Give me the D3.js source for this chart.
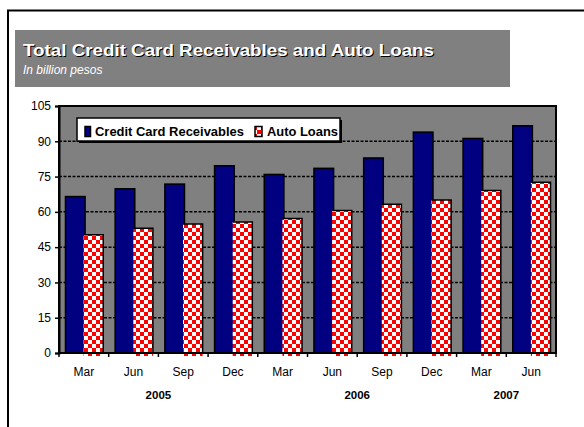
<!DOCTYPE html>
<html>
<head>
<meta charset="utf-8">
<script src="https://cdn.jsdelivr.net/npm/d3@7"></script>
<style>
  html, body { margin: 0; padding: 0; background: #ffffff; }
  svg { display: block; }
  text { font-family: "Liberation Sans", Arial, sans-serif; }
</style>
</head>
<body>
<div id="chart"></div>
<script>
// Quarterly balances, billion pesos
const quarters = ["Mar", "Jun", "Sep", "Dec", "Mar", "Jun", "Sep", "Dec", "Mar", "Jun"];
const quarterYears = ["2005", "2005", "2005", "2005", "2006", "2006", "2006", "2006", "2007", "2007"];
const yearLabels = ["2005", "2006", "2007"];
const creditCard = [66.5, 69.8, 71.8, 79.6, 75.9, 78.5, 82.9, 93.9, 91.2, 96.6];
const autoLoans = [50.3, 53.0, 54.8, 55.7, 57.2, 60.6, 63.2, 65.0, 69.1, 72.6];
const seriesNames = ["Credit Card Receivables", "Auto Loans"];
const yTicks = [0, 15, 30, 45, 60, 75, 90, 105];

const W = 584, H = 427;
const plot = { left: 59, right: 556, top: 106, bottom: 353 };

const svg = d3.select("#chart").append("svg")
  .attr("width", W).attr("height", H);

const defs = svg.append("defs");
// red / white checkerboard fill for the auto loan bars
const pat = defs.append("pattern")
  .attr("id", "checks").attr("patternUnits", "userSpaceOnUse")
  .attr("width", 8).attr("height", 8);
pat.append("rect").attr("width", 8).attr("height", 8).attr("fill", "#ffffff");
pat.append("rect").attr("x", 0).attr("y", 0).attr("width", 4).attr("height", 4).attr("fill", "#ff0000");
pat.append("rect").attr("x", 4).attr("y", 4).attr("width", 4).attr("height", 4).attr("fill", "#ff0000");

// page frame
svg.append("path")
  .attr("d", `M8,${H} V10.5 H${W}`)
  .attr("fill", "none").attr("stroke", "#000").attr("stroke-width", 2);

// title band
svg.append("rect")
  .attr("x", 15).attr("y", 30).attr("width", 495).attr("height", 57)
  .attr("fill", "#808080");

const titleText = "Total Credit Card Receivables and Auto Loans";
svg.append("text")
  .attr("x", 24).attr("y", 57)
  .attr("font-size", 17).attr("font-weight", "bold")
  .attr("textLength", 411).attr("lengthAdjust", "spacingAndGlyphs")
  .attr("fill", "#000").text(titleText);
svg.append("text")
  .attr("x", 23).attr("y", 56)
  .attr("font-size", 17).attr("font-weight", "bold")
  .attr("textLength", 411).attr("lengthAdjust", "spacingAndGlyphs")
  .attr("fill", "#fff").text(titleText);
svg.append("text")
  .attr("x", 23).attr("y", 74)
  .attr("font-size", 12).attr("font-style", "italic")
  .attr("fill", "#fff").text("In billion pesos");

// scales
const x = d3.scaleBand().domain(d3.range(quarters.length))
  .range([plot.left, plot.right]).paddingInner(0).paddingOuter(0);
const y = d3.scaleLinear().domain([0, 105]).range([plot.bottom, plot.top]);

const bw = x.bandwidth();
const barW = bw * 0.395;
const off1 = bw * 0.13;
const off2 = off1 + barW - 1.5;

// plot area
svg.append("rect")
  .attr("x", plot.left).attr("y", plot.top)
  .attr("width", plot.right - plot.left).attr("height", plot.bottom - plot.top)
  .attr("fill", "#808080");

// dashed gridlines
svg.append("g").selectAll("line")
  .data(yTicks.filter(t => t > 0 && t < 105))
  .join("line")
  .attr("x1", plot.left).attr("x2", plot.right)
  .attr("y1", d => y(d)).attr("y2", d => y(d))
  .attr("stroke", "#000").attr("stroke-width", 1.5)
  .attr("stroke-dasharray", "3,1.5");

// credit card bars
svg.append("g").selectAll("rect")
  .data(creditCard)
  .join("rect")
  .attr("x", (d, i) => x(i) + off1)
  .attr("y", d => y(d))
  .attr("width", barW)
  .attr("height", d => y(0) - y(d))
  .attr("fill", "#000080")
  .attr("stroke", "#000").attr("stroke-width", 1.5);

// auto loan bars
svg.append("g").selectAll("rect")
  .data(autoLoans)
  .join("rect")
  .attr("x", (d, i) => x(i) + off2)
  .attr("y", d => y(d))
  .attr("width", barW)
  .attr("height", d => y(0) - y(d) + 3)
  .attr("fill", "url(#checks)");
svg.append("g").selectAll("path")
  .data(autoLoans)
  .join("path")
  .attr("d", (d, i) => `M${x(i) + off2},${y(d)} H${x(i) + off2 + barW} V${y(0)}`)
  .attr("fill", "none")
  .attr("stroke", "#000").attr("stroke-width", 1.5);

// plot frame
svg.append("rect")
  .attr("x", plot.left).attr("y", plot.top)
  .attr("width", plot.right - plot.left).attr("height", plot.bottom - plot.top)
  .attr("fill", "none").attr("stroke", "#000").attr("stroke-width", 2);

// y axis
const yAxis = d3.axisLeft(y).tickValues(yTicks).tickSize(4).tickPadding(4);
const gy = svg.append("g").attr("transform", `translate(${plot.left},0)`).call(yAxis);
gy.select(".domain").attr("stroke", "#000").attr("stroke-width", 2);
gy.selectAll(".tick line").attr("stroke", "#000").attr("stroke-width", 1.5);
gy.selectAll(".tick text")
  .attr("font-family", "Liberation Sans, Arial, sans-serif")
  .attr("font-size", 12).attr("fill", "#000");

// x axis: tick marks on category boundaries
const gx = svg.append("g").attr("transform", `translate(0,${plot.bottom})`);
gx.append("line")
  .attr("x1", plot.left).attr("x2", plot.right)
  .attr("stroke", "#000").attr("stroke-width", 2);
gx.selectAll(".bound")
  .data(d3.range(quarters.length + 1))
  .join("line").attr("class", "bound")
  .attr("x1", i => i < quarters.length ? x(i) : plot.right)
  .attr("x2", i => i < quarters.length ? x(i) : plot.right)
  .attr("y1", 0).attr("y2", 4)
  .attr("stroke", "#000").attr("stroke-width", 1.5);
gx.selectAll(".qlab")
  .data(quarters)
  .join("text").attr("class", "qlab")
  .attr("x", (d, i) => x(i) + bw / 2)
  .attr("y", 23)
  .attr("text-anchor", "middle")
  .attr("font-size", 12).attr("fill", "#000")
  .text(d => d);

// year labels centred under their quarters
gx.selectAll(".ylab")
  .data(yearLabels)
  .join("text").attr("class", "ylab")
  .attr("x", yr => {
    const idx = quarterYears.map((v, i) => v === yr ? i : -1).filter(i => i >= 0);
    return (x(idx[0]) + x(idx[idx.length - 1]) + bw) / 2;
  })
  .attr("y", 46)
  .attr("text-anchor", "middle")
  .attr("font-size", 11.5).attr("font-weight", "bold").attr("fill", "#000")
  .text(d => d);

// legend
const lg = svg.append("g").attr("transform", "translate(77,118)");
lg.append("rect").attr("x", 2).attr("y", 2).attr("width", 263).attr("height", 23).attr("fill", "#000");
lg.append("rect").attr("x", 0).attr("y", 0).attr("width", 263).attr("height", 23)
  .attr("fill", "#fff").attr("stroke", "#000").attr("stroke-width", 1.5);
lg.append("rect").attr("x", 8).attr("y", 8.5).attr("width", 5.5).attr("height", 10)
  .attr("fill", "#000080").attr("stroke", "#000").attr("stroke-width", 1.5);
lg.append("text").attr("x", 18).attr("y", 18).attr("font-size", 13).attr("font-weight", "bold")
  .attr("textLength", 149).attr("lengthAdjust", "spacingAndGlyphs")
  .text(seriesNames[0]);
lg.append("rect").attr("x", 178).attr("y", 8.5).attr("width", 7).attr("height", 10)
  .attr("fill", "url(#checks)").attr("stroke", "#000").attr("stroke-width", 1.5);
lg.append("text").attr("x", 190).attr("y", 18).attr("font-size", 13).attr("font-weight", "bold")
  .attr("textLength", 71).attr("lengthAdjust", "spacingAndGlyphs")
  .text(seriesNames[1]);
</script>
</body>
</html>
